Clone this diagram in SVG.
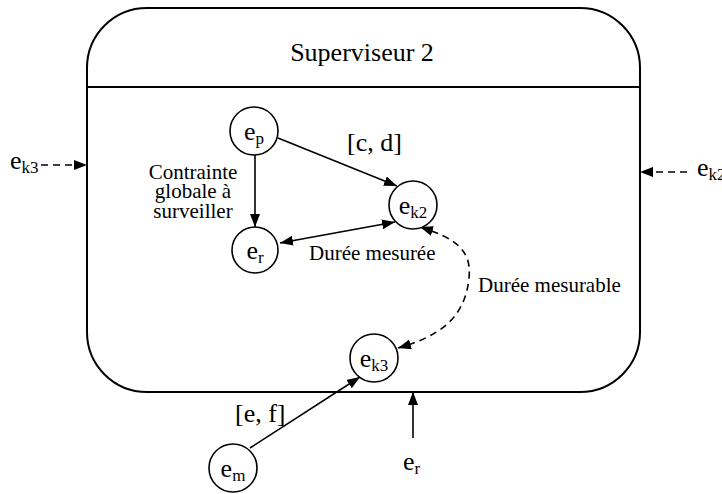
<svg xmlns="http://www.w3.org/2000/svg" width="722" height="494" viewBox="0 0 722 494" font-family="'Liberation Serif', 'Times New Roman', serif">
<defs>
<marker id="ah" markerUnits="userSpaceOnUse" markerWidth="14" markerHeight="11" refX="13" refY="5" orient="auto-start-reverse">
<path d="M0,0 L13,5 L0,10 z" fill="#000"/>
</marker>
<style>
text{font-family:'Liberation Serif','Times New Roman',serif;fill:#000}
.node circle{fill:#fff;stroke:#000;stroke-width:1.6}
.lbl{font-size:26px;text-anchor:middle}
.sub{font-size:17px}
.edge{fill:none;stroke:#000;stroke-width:1.6}
.dash{stroke-dasharray:7,5}
.t21{font-size:21px}
.t26{font-size:26px}
</style>
</defs>
<rect width="722" height="494" fill="#fff"/>
<g id="superviseur">
<rect x="87" y="8" width="553" height="384" rx="60" ry="60" fill="none" stroke="#000" stroke-width="2"/>
<line x1="87" y1="87" x2="640" y2="87" stroke="#000" stroke-width="2"/>
<text class="t26" x="362" y="61" text-anchor="middle">Superviseur 2</text>
</g>
<g id="connectors">
<line class="edge" x1="255" y1="155" x2="255" y2="227" marker-end="url(#ah)"/>
<line class="edge" x1="278" y1="138" x2="397" y2="186" marker-end="url(#ah)"/>
<line class="edge" x1="280" y1="243" x2="395" y2="222" marker-start="url(#ah)" marker-end="url(#ah)"/>
<path class="edge dash" d="M420,227 C455,238 472,250 469,278 C465,318 440,336 398,348" marker-start="url(#ah)" marker-end="url(#ah)"/>
<line class="edge" x1="250" y1="448" x2="360" y2="377" marker-end="url(#ah)"/>
<line class="edge" x1="413" y1="438" x2="413" y2="392" marker-end="url(#ah)"/>
<line class="edge dash" x1="41" y1="165" x2="87" y2="165" marker-end="url(#ah)"/>
<line class="edge dash" x1="687" y1="172" x2="640" y2="172" marker-end="url(#ah)"/>
</g>
<g id="node-ep" class="node"><circle cx="254" cy="131" r="24"/><text class="lbl" x="254" y="140">e<tspan class="sub" dy="4">p</tspan></text></g>
<g id="node-er" class="node"><circle cx="255" cy="250" r="23"/><text class="lbl" x="255" y="259">e<tspan class="sub" dy="4">r</tspan></text></g>
<g id="node-ek2" class="node"><circle cx="413" cy="205" r="24"/><text class="lbl" x="413" y="214">e<tspan class="sub" dy="4">k2</tspan></text></g>
<g id="node-ek3" class="node"><circle cx="374" cy="358" r="24"/><text class="lbl" x="374" y="367">e<tspan class="sub" dy="4">k3</tspan></text></g>
<g id="node-em" class="node"><circle cx="233" cy="468" r="24"/><text class="lbl" x="233" y="477">e<tspan class="sub" dy="4">m</tspan></text></g>
<g id="labels">
<text class="t21" x="193" y="179" text-anchor="middle">Contrainte</text>
<text class="t21" x="193" y="198" text-anchor="middle">globale à</text>
<text class="t21" x="193" y="218" text-anchor="middle">surveiller</text>
<text class="t26" x="347" y="151">[c, d]</text>
<text class="t21" x="309" y="260">Durée mesurée</text>
<text class="t21" x="478" y="292">Durée mesurable</text>
<text class="t26" x="235" y="422">[e, f]</text>
<text class="t26" x="10" y="169">e<tspan class="sub" dy="4">k3</tspan></text>
<text class="t26" x="697" y="176">e<tspan class="sub" dy="4">k2</tspan></text>
<text class="t26" x="403" y="470">e<tspan class="sub" dy="4">r</tspan></text>
</g>
</svg>
